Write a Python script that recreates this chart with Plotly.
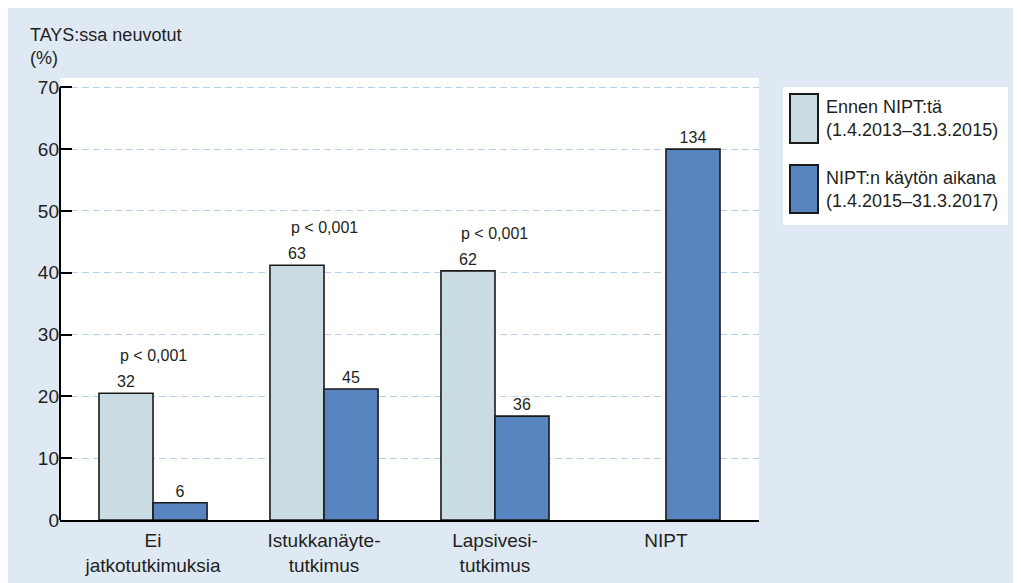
import plotly.graph_objects as go

# ---- data ----
categories = ["Ei<br>jatkotutkimuksia", "Istukkanäyte-<br>tutkimus", "Lapsivesi-<br>tutkimus", "NIPT"]
series_names = ["Ennen NIPT:tä<br>(1.4.2013–31.3.2015)", "NIPT:n käytön aikana<br>(1.4.2015–31.3.2017)"]
before_pct = [20.5, 41.2, 40.3, None]
during_pct = [2.8, 21.2, 16.8, 60.0]
before_n = ["32", "63", "62", ""]
during_n = ["6", "45", "36", "134"]
p_labels = ["p < 0,001", "p < 0,001", "p < 0,001", ""]
y_ticks = [0, 10, 20, 30, 40, 50, 60, 70]
y_title = "TAYS:ssa neuvotut<br>(%)"

# ---- style ----
FONT = "Liberation Sans, Arial, sans-serif"
TXT = "#231f20"
BG = "#dfe9f4"
C_LIGHT = "#c9dbe3"
C_DARK = "#5884c0"
EDGE = "#1a1a1a"
GRID = "#b6cfec"

OFF = 8  # page body margin
W, H = 1021, 583
ML = 60 - OFF
MT = 78 - OFF
MR = W - (759 - OFF)
MB = H - (520 - OFF)
PW, PH = W - ML - MR, H - MT - MB


def px_x(px):
    """screen x pixel -> paper x"""
    return (px - OFF - ML) / PW


def px_y(py):
    """screen y pixel -> paper y"""
    return (H - MB - (py - OFF)) / PH


fig = go.Figure()
fig.add_trace(go.Bar(
    x=categories, y=before_pct, name=series_names[0],
    marker=dict(color=C_LIGHT, line=dict(color=EDGE, width=1.6)),
    text=before_n, textposition="outside", cliponaxis=False, constraintext="none",
    textfont=dict(size=16, color=TXT, family=FONT), showlegend=False,
))
fig.add_trace(go.Bar(
    x=categories, y=during_pct, name=series_names[1],
    marker=dict(color=C_DARK, line=dict(color=EDGE, width=1.6)),
    text=during_n, textposition="outside", cliponaxis=False, constraintext="none",
    textfont=dict(size=16, color=TXT, family=FONT), showlegend=False,
))

# p-value annotations
for cat, p, v in zip(categories, p_labels, before_pct):
    if p and v is not None:
        fig.add_annotation(x=cat, y=v, text=p, showarrow=False, yanchor="bottom",
                           yshift=27, font=dict(size=16, color=TXT, family=FONT))

# y-axis title
fig.add_annotation(xref="paper", yref="paper", x=px_x(28), y=px_y(23), xanchor="left",
                   yanchor="top", align="left", text=y_title, showarrow=False,
                   font=dict(size=18, color=TXT, family=FONT))

shapes = [
    # y axis line (0..70)
    dict(type="line", xref="paper", yref="y", x0=0, x1=0, y0=0, y1=70,
         line=dict(color="black", width=2)),
    # legend box
    dict(type="rect", xref="paper", yref="paper", x0=px_x(783), x1=px_x(1008), y0=px_y(225), y1=px_y(87),
         fillcolor="white", line=dict(width=0), layer="below"),
]
legend_items = [(C_LIGHT, 94, 143), (C_DARK, 165, 213)]
for (col, t, b), name in zip(legend_items, series_names):
    shapes.append(dict(type="rect", xref="paper", yref="paper", x0=px_x(790), x1=px_x(818),
                       y0=px_y(b), y1=px_y(t), fillcolor=col, line=dict(color=EDGE, width=2)))
    fig.add_annotation(xref="paper", yref="paper", x=px_x(824), y=px_y((t + b) / 2),
                       xanchor="left", yanchor="middle", align="left", text=name, showarrow=False,
                       font=dict(size=18, color=TXT, family=FONT))

fig.update_layout(
    width=W, height=H,
    margin=dict(l=ML, r=MR, t=MT, b=MB, pad=0),
    paper_bgcolor=BG, plot_bgcolor="white",
    barmode="group", bargap=0.368, bargroupgap=0,
    font=dict(family=FONT, color=TXT, size=19),
    shapes=shapes,
    showlegend=False,
)
fig.update_xaxes(
    range=[-0.544, 3.544], showline=True, linecolor="black", linewidth=2,
    ticks="", tickfont=dict(size=19, color=TXT, family=FONT), showgrid=False,
    zeroline=False, ticklabelstandoff=2,
)
fig.update_yaxes(
    range=[0, 71.5], tickvals=y_ticks, ticks="inside", ticklen=12, tickwidth=2,
    tickcolor="black", showline=False, showgrid=True, gridcolor=GRID, gridwidth=1,
    griddash="7px,4px", zeroline=False, tickfont=dict(size=19, color=TXT, family=FONT),
)

fig.write_html("out.html")
